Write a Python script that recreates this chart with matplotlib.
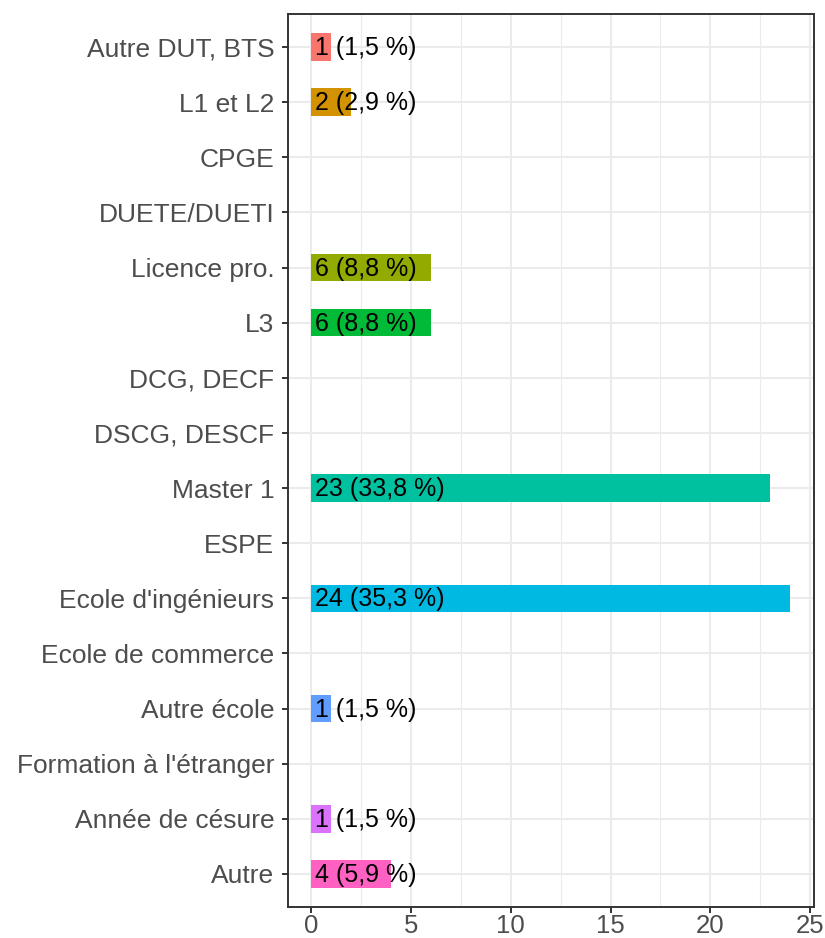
import numpy as np
import matplotlib
matplotlib.use("Agg")
import matplotlib.pyplot as plt

plt.rcParams['font.family'] = ['Liberation Sans', 'DejaVu Sans']

# categories from top to bottom
categories = ["Autre DUT, BTS", "L1 et L2", "CPGE", "DUETE/DUETI", "Licence pro.",
              "L3", "DCG, DECF", "DSCG, DESCF", "Master 1", "ESPE",
              "Ecole d'ingénieurs", "Ecole de commerce", "Autre école",
              "Formation à l'étranger", "Année de césure", "Autre"]
counts = [1, 2, 0, 0, 6, 6, 0, 0, 23, 0, 24, 0, 1, 0, 1, 4]
percents = ["1,5", "2,9", "", "", "8,8", "8,8", "", "", "33,8", "",
            "35,3", "", "1,5", "", "1,5", "5,9"]
# ggplot hue palette (9 levels), one per non-empty category
palette = ["#F8766D", "#D39200", "#93AA00", "#00BA38", "#00C19F",
           "#00B9E3", "#619CFF", "#DB72FB", "#FF61C3"]

W, H = 825, 938
fig = plt.figure(figsize=(W / 100, H / 100), dpi=100)
left, right, top, bottom = 287.5, 814, 14, 907
ax = fig.add_axes([left / W, 1 - bottom / H, (right - left) / W, (bottom - top) / H])

ypos = np.arange(len(categories))
colors = []
k = 0
for c in counts:
    if c > 0:
        colors.append(palette[k])
        k += 1
    else:
        colors.append("none")

ax.barh(ypos, counts, height=0.5, color=colors, zorder=2)

for y, c, p in zip(ypos, counts, percents):
    if c > 0:
        ax.annotate(f"{c} ({p} %)", xy=(0, y), xytext=(2.5, -0.8), textcoords="offset points",
                    ha="left", va="center", fontsize=18, color="black", zorder=3)

ax.set_xlim(-1.2, 25.2)
ax.set_ylim(len(categories) - 0.4, -0.6)
ax.set_yticks(ypos)
ax.set_yticklabels(categories)
ax.set_xticks([0, 5, 10, 15, 20, 25])
ax.set_xticks([2.5, 7.5, 12.5, 17.5, 22.5], minor=True)

ax.grid(which="major", color="#EBEBEB", linewidth=1.5, zorder=0)
ax.grid(which="minor", axis="x", color="#EBEBEB", linewidth=0.8, zorder=0)
ax.set_axisbelow(True)

for s in ax.spines.values():
    s.set_color("#333333")
    s.set_linewidth(1.4)

ax.tick_params(axis="both", which="major", length=4.5, width=1.4, color="#333333",
               labelcolor="#4D4D4D")
ax.tick_params(axis="both", which="minor", length=0)
ax.tick_params(axis="y", labelsize=19, pad=5)
ax.tick_params(axis="x", labelsize=18.5, pad=0.5)

fig.savefig("out.png", dpi=100)
